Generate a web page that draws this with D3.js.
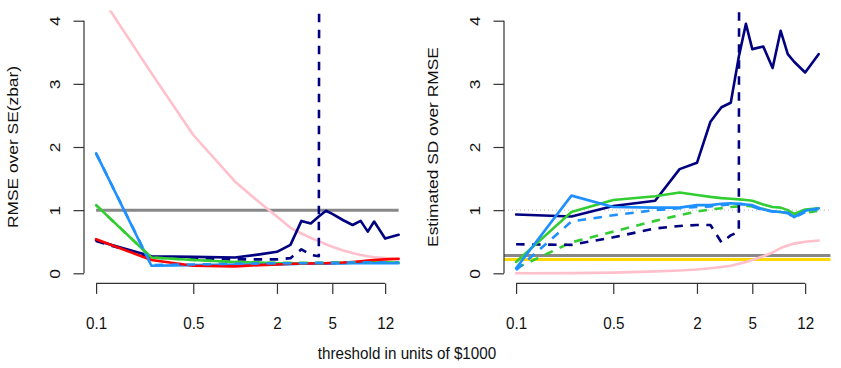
<!DOCTYPE html>
<html>
<head>
<meta charset="utf-8">
<script src="https://cdn.jsdelivr.net/npm/d3@7"></script>
<style>
  body { margin: 0; background: #fff; }
  svg text { font-family: "Liberation Sans", Arial, sans-serif; fill: #111; }
</style>
</head>
<body>
<div id="chart"></div>
<script>
// thresholds (in $1000) shared by every series
const thresholds = [0.1, 0.25, 0.5, 1, 1.5, 2, 2.5, 3, 3.5, 4, 4.5, 5, 6, 7, 8, 9, 10, 12, 15];
const xTickValues = [0.1, 0.5, 2, 5, 12];
const yTickValues = [0, 1, 2, 3, 4];

// left panel: RMSE over SE(zbar)
const rmseNavy      = [0.52, 0.27, 0.26, 0.25, 0.30, 0.34, 0.45, 0.83, 0.79, 0.90, 0.99, 0.94, 0.84, 0.765, 0.83, 0.66, 0.82, 0.55, 0.61];
const rmseNavyDash  = [0.51, 0.25, 0.23, 0.22, 0.22, 0.22, 0.24, 0.38, 0.29, 0.27, 100, null, null, null, null, null, null, null, null];
const rmseBlue      = [1.90, 0.12, 0.13, 0.14, 0.14, 0.14, 0.145, 0.15, 0.15, 0.15, 0.15, 0.155, 0.155, 0.16, 0.16, 0.16, 0.16, 0.16, 0.16];
const rmseBlueDash  = [1.90, 0.13, 0.14, 0.15, 0.155, 0.16, 0.16, 0.16, 0.16, 0.165, 0.165, 0.165, 0.17, 0.17, 0.17, 0.175, 0.175, 0.17, 0.17];
const rmseGreen     = [1.08, 0.25, 0.21, 0.18, 0.17, 0.16, 0.16, 0.16, 0.16, 0.16, 0.16, 0.16, 0.165, 0.17, 0.17, 0.17, 0.175, 0.175, 0.17];
const rmseGreenDash = [1.08, 0.25, 0.21, 0.18, 0.17, 0.165, 0.165, 0.165, 0.165, 0.165, 0.165, 0.17, 0.17, 0.175, 0.175, 0.175, 0.175, 0.175, 0.17];
const rmseRed       = [0.54, 0.21, 0.12, 0.11, 0.13, 0.14, 0.15, 0.15, 0.155, 0.16, 0.16, 0.165, 0.17, 0.18, 0.19, 0.20, 0.21, 0.22, 0.23];
const rmsePink      = [4.5, 3.17, 2.19, 1.45, 1.12, 0.90, 0.72, 0.63, 0.56, 0.51, 0.46, 0.42, 0.36, 0.32, 0.29, 0.27, 0.255, 0.24, 0.22];
const rmseRef = 1;

// right panel: estimated SD over RMSE
const sdNavy      = [0.93, 0.90, 1.066, 1.15, 1.65, 1.75, 2.40, 2.63, 2.70, 3.43, 3.95, 3.55, 3.59, 3.25, 3.84, 3.47, 3.35, 3.18, 3.47];
const sdNavyDash  = [0.46, 0.45, 0.57, 0.71, 0.75, 0.765, 0.765, 0.49, 0.60, 0.66, 100, null, null, null, null, null, null, null, null];
const sdBlue      = [0.08, 1.23, 1.05, 1.04, 1.04, 1.08, 1.08, 1.10, 1.11, 1.10, 1.09, 1.08, 1.01, 0.98, 0.97, 0.96, 0.89, 0.99, 1.03];
const sdBlueDash  = [0.05, 0.82, 0.92, 1.00, 1.03, 1.05, 1.06, 1.08, 1.09, 1.10, 1.09, 1.06, 1.00, 0.98, 0.97, 0.95, 0.88, 0.97, 1.02];
const sdGreen     = [0.18, 0.97, 1.16, 1.22, 1.28, 1.24, 1.21, 1.19, 1.18, 1.17, 1.16, 1.15, 1.09, 1.05, 1.04, 1.00, 0.94, 1.01, 1.03];
const sdGreenDash = [0.08, 0.49, 0.66, 0.83, 0.92, 0.98, 1.01, 1.03, 1.05, 1.06, 1.07, 1.06, 1.02, 0.98, 0.97, 0.95, 0.92, 0.96, 0.99];
const sdPink      = [0.0, 0.002, 0.01, 0.03, 0.045, 0.06, 0.08, 0.10, 0.12, 0.15, 0.18, 0.21, 0.27, 0.33, 0.40, 0.44, 0.47, 0.50, 0.52];
const sdGrayLevel = 0.28;
const sdGoldLevel = 0.22;
const sdDotLevel = 1;

const width = 841, height = 368;
const plotTop = 10.6, plotBottom = 283.4;
const textScale = 0.875;   // glyphs in the source look horizontally squeezed
const fontSize = 17.4;
const dash = '8.5,7.5';

const svg = d3.select('#chart')
    .append('svg')
    .attr('width', width)
    .attr('height', height);

const y = d3.scaleLinear()
    .domain([-0.16, 4.16])
    .range([plotBottom, plotTop]);

// Draw one panel
function drawPanel(left, yLabel, series, hlines, clipId) {
    const x = d3.scaleLog()
        .domain([Math.pow(10, -1.087), Math.pow(10, 1.263)])
        .range([left, left + 326.7]);

    svg.append('clipPath')
        .attr('id', clipId)
        .append('rect')
        .attr('x', left)
        .attr('y', plotTop)
        .attr('width', 326.7)
        .attr('height', plotBottom - plotTop);

    const plot = svg.append('g').attr('clip-path', `url(#${clipId})`);

    // horizontal reference lines across the plot
    hlines.forEach(h => {
        plot.append('line')
            .attr('x1', h.full ? left : x(thresholds[0]))
            .attr('x2', h.full ? left + 326.7 : x(thresholds[thresholds.length - 1]))
            .attr('y1', y(h.value))
            .attr('y2', y(h.value))
            .attr('stroke', h.color)
            .attr('stroke-width', h.width)
            .attr('stroke-dasharray', h.dash || null);
    });

    const line = d3.line()
        .defined(d => d[1] != null)
        .x(d => x(d[0]))
        .y(d => y(d[1]));

    series.forEach(s => {
        plot.append('path')
            .datum(thresholds.map((t, i) => [t, s.values[i]]))
            .attr('d', line)
            .attr('fill', 'none')
            .attr('stroke', s.color)
            .attr('stroke-width', 2.6)
            .attr('stroke-linejoin', 'round')
            .attr('stroke-linecap', s.dashed ? 'butt' : 'round')
            .attr('stroke-dasharray', s.dashed ? dash : null);
    });

    // x axis: line only spans first to last tick, like R
    const gx = svg.append('g')
        .attr('transform', `translate(0,${plotBottom})`)
        .style('color', '#333')
        .call(d3.axisBottom(x).tickValues(xTickValues).tickFormat(d => String(d)).tickSize(10.5).tickSizeOuter(0));
    gx.select('.domain').remove();
    gx.append('line')
        .attr('x1', x(xTickValues[0]))
        .attr('x2', x(xTickValues[xTickValues.length - 1]))
        .attr('stroke', '#333')
        .attr('stroke-width', 1.2);
    gx.selectAll('.tick line').attr('stroke-width', 1.2);
    gx.selectAll('text')
        .attr('y', 0)
        .attr('dy', null)
        .attr('font-size', fontSize)
        .attr('transform', `translate(0,${329 - plotBottom}) scale(${textScale},1)`);

    // y axis
    const gy = svg.append('g')
        .attr('transform', `translate(${left},0)`)
        .style('color', '#333')
        .call(d3.axisLeft(y).tickValues(yTickValues).tickFormat(d3.format('d')).tickSize(10.5).tickSizeOuter(0));
    gy.select('.domain').remove();
    gy.append('line')
        .attr('y1', y(0))
        .attr('y2', y(4))
        .attr('stroke', '#333')
        .attr('stroke-width', 1.2);
    gy.selectAll('.tick line').attr('stroke-width', 1.2);
    gy.selectAll('text')
        .attr('x', 0)
        .attr('dy', null)
        .attr('text-anchor', 'middle')
        .attr('font-size', fontSize)
        .attr('transform', `translate(-24.5,0) scale(${textScale},1) rotate(-90)`);

    svg.append('text')
        .attr('text-anchor', 'middle')
        .attr('font-size', fontSize)
        .attr('transform', `translate(${left - 66.5},${(plotTop + plotBottom) / 2}) scale(${textScale},1) rotate(-90)`)
        .text(yLabel);
}

drawPanel(84, 'RMSE over SE(zbar)', [
    {values: rmsePink, color: '#FFC0CB'},
    {values: rmseNavy, color: '#000080'},
    {values: rmseNavyDash, color: '#000080', dashed: true},
    {values: rmseGreen, color: '#32CD32'},
    {values: rmseBlue, color: '#1E90FF'},
    {values: rmseRed, color: '#FF0000'},
    {values: rmseGreenDash, color: '#32CD32', dashed: true},
    {values: rmseBlueDash, color: '#1E90FF', dashed: true}
], [
    {value: rmseRef, color: '#888888', width: 3}
], 'clipL');

drawPanel(504, 'Estimated SD over RMSE', [
    {values: sdPink, color: '#FFC0CB'},
    {values: sdGreenDash, color: '#32CD32', dashed: true},
    {values: sdBlueDash, color: '#1E90FF', dashed: true},
    {values: sdNavyDash, color: '#000080', dashed: true},
    {values: sdNavy, color: '#000080'},
    {values: sdGreen, color: '#32CD32'},
    {values: sdBlue, color: '#1E90FF'}
], [
    {value: sdDotLevel, color: '#BBBBBB', width: 1, dash: '1,3', full: true},
    {value: sdGrayLevel, color: '#888888', width: 3, full: true},
    {value: sdGoldLevel, color: '#FFD700', width: 3, full: true}
], 'clipR');

svg.append('text')
    .attr('text-anchor', 'middle')
    .attr('font-size', fontSize)
    .attr('transform', `translate(407,359) scale(${textScale},1)`)
    .text('threshold in units of $1000');
</script>
</body>
</html>
